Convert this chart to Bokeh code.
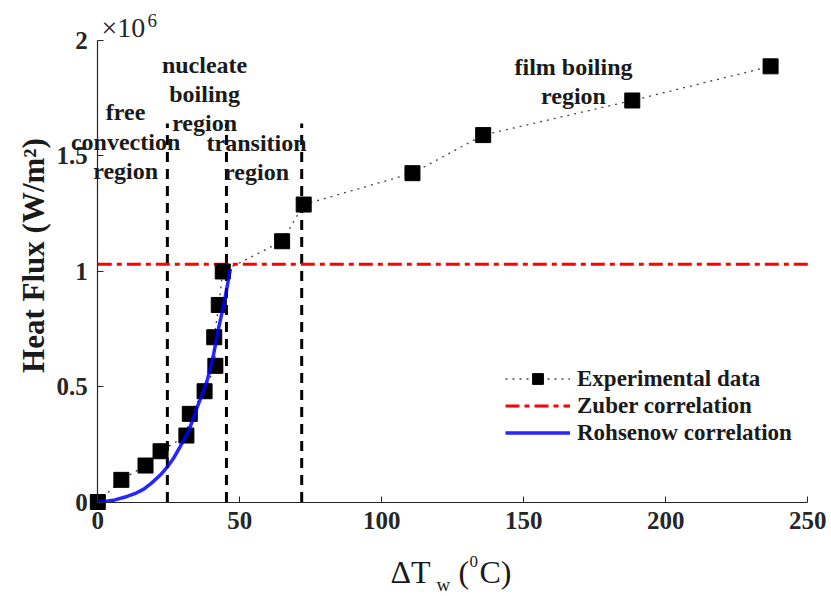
import math
from bokeh.plotting import figure
from bokeh.models import (Range1d, Label, Legend, LegendItem, FixedTicker, LinearAxis, ColumnDataSource)
from bokeh.embed import file_html
from bokeh.resources import INLINE

# ---- data (heat flux in units of 1e6 W/m^2) ----
exp_dT = [0, 8.3, 16.8, 22.1, 31.2, 32.4, 37.6, 41.4, 41.0, 42.6, 44.0, 64.9, 72.5, 110.8, 135.7, 188.2, 236.9]
exp_q = [0, 0.096, 0.158, 0.22, 0.288, 0.382, 0.48, 0.59, 0.714, 0.854, 0.999, 1.13, 1.289, 1.425, 1.59, 1.74, 1.888]

roh_dT = [0, 3, 6, 10.3, 13, 16.2, 19, 22.1, 24.5, 26.8, 29, 31.5, 33.3, 35, 36.8, 38.5, 39.7, 40.8, 41.7, 42.6, 43.5, 44.4, 45.5, 46.7]
roh_q = [0, 0.003, 0.009, 0.024, 0.036, 0.056, 0.083, 0.118, 0.152, 0.192, 0.24, 0.295, 0.35, 0.411, 0.468, 0.526, 0.584, 0.642, 0.70, 0.757, 0.808, 0.859, 0.93, 1.01]

zuber_q = 1.03
zuber_dT = [0, 250]

region_bounds = [24.5, 45.3, 71.8]
region_top = 1.64

x_ticks = [0, 50, 100, 150, 200, 250]
y_ticks = [0, 0.5, 1, 1.5, 2]
y_tick_labels = ["0", "0.5", "1", "1.5", "2"]

y_title = "Heat Flux (W/m\u00b2)"
legend_labels = ["Experimental data", "Zuber correlation", "Rohsenow correlation"]
region_labels = ["free\nconvection\nregion", "nucleate\nboiling\nregion", "transition\nregion", "film boiling\nregion"]

FONT = "Liberation Serif"
AX = "#262626"
TXT = "#1a1a1a"

W, H = 831, 596
# frame covers the whole canvas; axes are pinned at x=0 / y=0
p = figure(width=W, height=H, output_backend="svg", toolbar_location=None,
           x_range=Range1d(-34.26, 258.35), y_range=Range1d(-0.4095, 2.1733),
           x_axis_location=None, y_axis_location=None,
           min_border_left=0, min_border_right=0, min_border_top=0, min_border_bottom=0)
p.outline_line_color = None
p.background_fill_color = "white"
for g in p.grid:
    g.visible = False

xax = LinearAxis(fixed_location=0, bounds=(0, 250), ticker=FixedTicker(ticks=x_ticks))
yax = LinearAxis(fixed_location=0, bounds=(0, 2), ticker=FixedTicker(ticks=y_ticks))
for ax in (xax, yax):
    ax.axis_line_color = AX
    ax.axis_line_width = 1.2
    ax.major_tick_line_color = AX
    ax.major_tick_in = 6
    ax.major_tick_out = 0
    ax.minor_tick_line_color = None
    ax.major_label_text_font = FONT
    ax.major_label_text_font_style = "bold"
    ax.major_label_text_font_size = "25px"
    ax.major_label_text_color = AX
    ax.major_label_standoff = 10
yax.major_label_overrides = {t: l for t, l in zip(y_ticks, y_tick_labels)}
p.add_layout(xax, "below")
p.add_layout(yax, "left")

# region boundaries
for xb in region_bounds:
    p.segment(x0=[xb], y0=[0], x1=[xb], y1=[region_top], line_color="black",
              line_width=3, line_dash="10 7")

# Zuber
z_r = p.line(x=zuber_dT, y=[zuber_q] * len(zuber_dT), line_color="#ff0000", line_width=3,
             line_dash="14 5 5 5")

# experimental
src = ColumnDataSource(dict(x=exp_dT, y=exp_q))
e_line = p.line("x", "y", source=src, line_color="#444444", line_width=1.3, line_dash="2 5")
e_sq = p.scatter("x", "y", source=src, marker="square", size=15, fill_color="black", line_color="black")

# Rohsenow
r_r = p.line(x=roh_dT, y=roh_q, line_color="#0000ff", line_width=3.5, line_alpha=0.85)

legend = Legend(items=[
    LegendItem(label=legend_labels[0], renderers=[e_line, e_sq]),
    LegendItem(label=legend_labels[1], renderers=[z_r]),
    LegendItem(label=legend_labels[2], renderers=[r_r]),
], location=(505, 150))
legend.background_fill_alpha = 0
legend.border_line_color = None
legend.padding = 0
legend.margin = 0
legend.spacing = 0
legend.glyph_width = 65
legend.glyph_height = 27
legend.label_height = 27
legend.label_standoff = 7
legend.label_text_font = FONT
legend.label_text_font_style = "bold"
legend.label_text_font_size = "23px"
legend.label_text_color = TXT
p.add_layout(legend)

# region annotations (data coordinates)
region_pos = [(9.8, 1.562), (37.6, 1.767), (55.9, 1.493), (167.5, 1.823)]
for txt, (xx, yy) in zip(region_labels, region_pos):
    p.add_layout(Label(x=xx, y=yy, text=txt, text_align="center", text_baseline="middle",
                       text_font=FONT, text_font_style="bold", text_font_size="24px",
                       text_color=TXT, text_line_height=1.12))

# screen-unit texts (origin bottom-left of canvas), vertically centred
sc = dict(x_units="screen", y_units="screen", text_font=FONT, text_baseline="middle")

# y axis title
p.add_layout(Label(x=33, y=H - 255, text=y_title, angle=math.pi / 2, text_align="center",
                   text_font_size="31px", text_font_style="bold", text_color=TXT,
                   x_units="screen", y_units="screen", text_font=FONT, text_baseline="middle"))

# x10^6 multiplier
p.add_layout(Label(x=101, y=H - 27, text="\u00d710", text_font_size="28px", text_color=AX, **sc))
p.add_layout(Label(x=147, y=H - 20, text="6", text_font_size="19px", text_color=AX, **sc))

# x axis label composed: ΔT_w (0C)
p.add_layout(Label(x=390, y=H - 571, text="\u0394T", text_font_size="32px", text_color=TXT, **sc))
p.add_layout(Label(x=436, y=H - 584, text="w", text_font_size="19px", text_color=TXT, **sc))
p.add_layout(Label(x=458, y=H - 571, text="(", text_font_size="32px", text_color=TXT, **sc))
p.add_layout(Label(x=469, y=H - 561, text="0", text_font_size="17px", text_color=TXT, **sc))
p.add_layout(Label(x=479, y=H - 571, text="C)", text_font_size="32px", text_color=TXT, **sc))

open("out.html", "w").write(file_html(p, INLINE))
